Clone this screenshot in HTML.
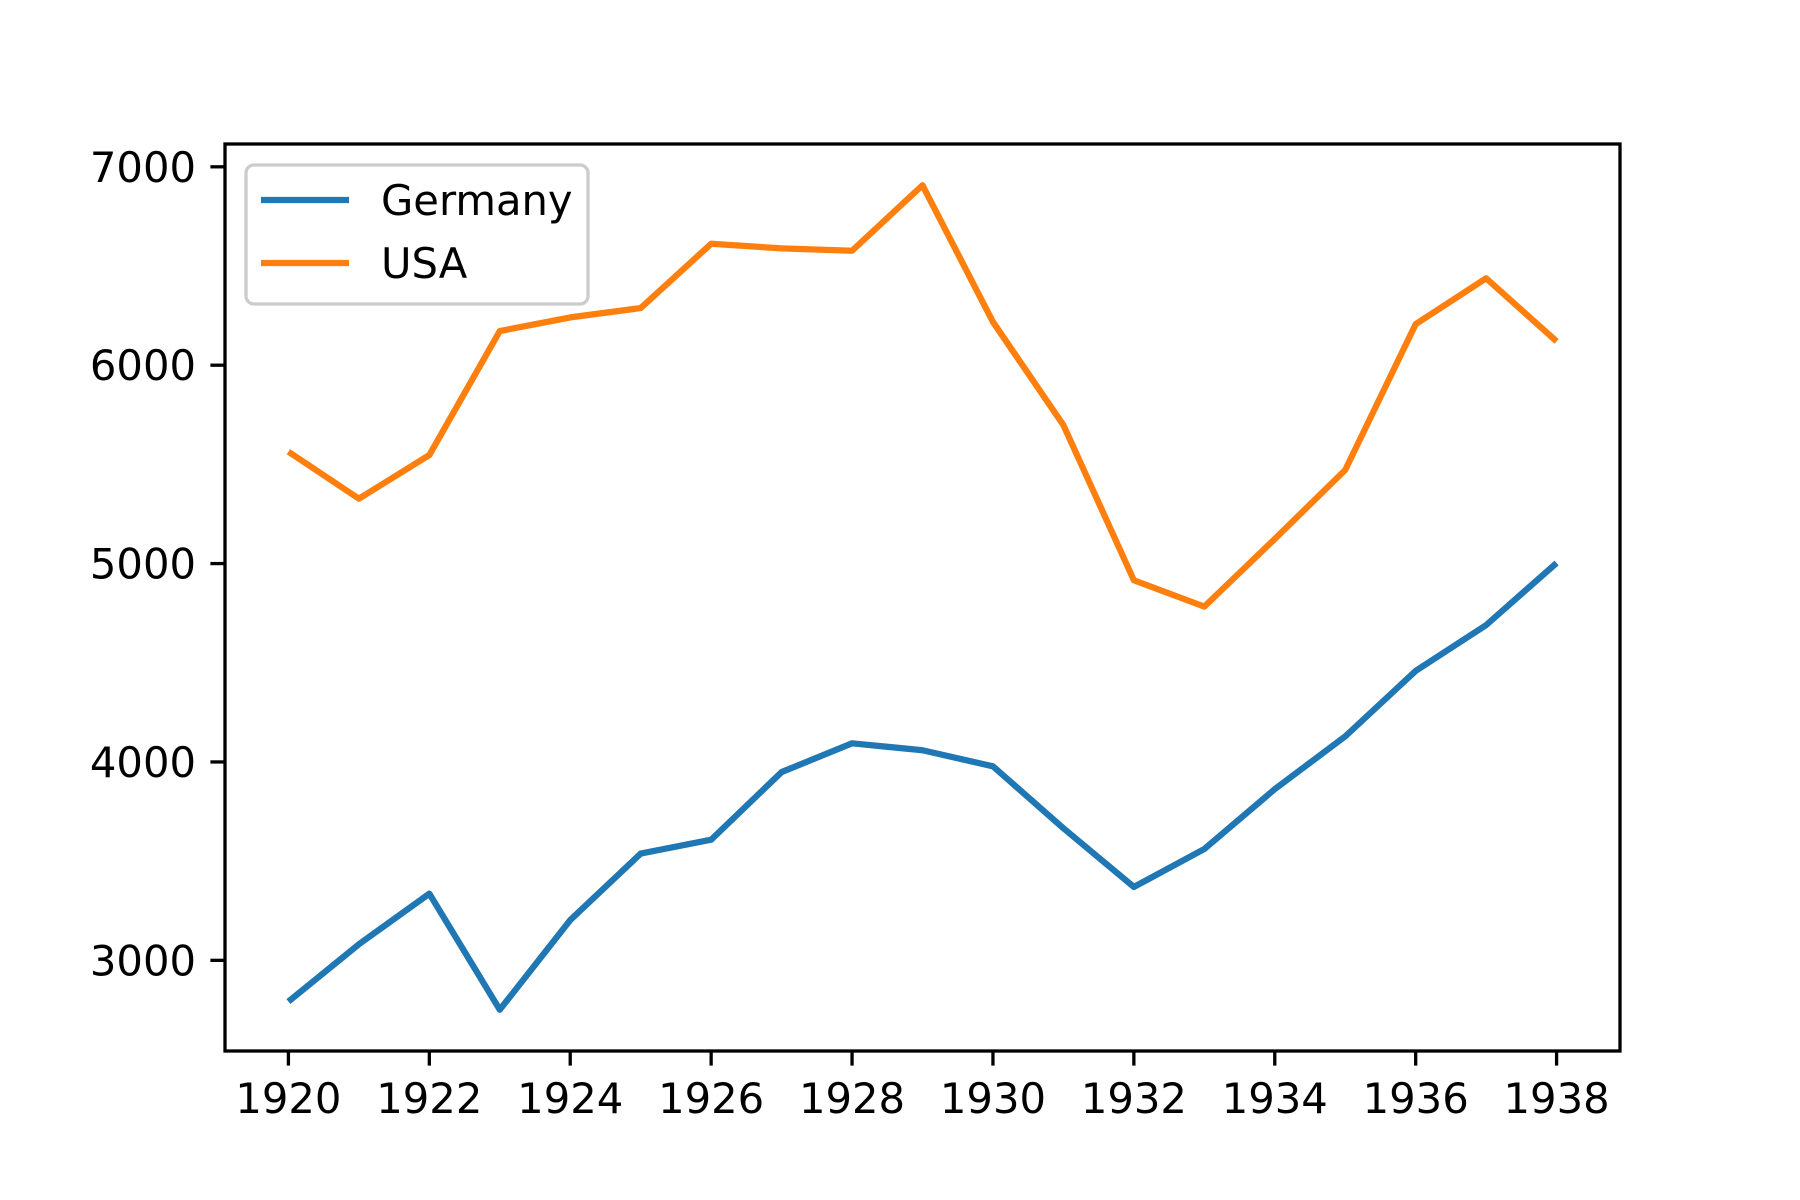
<!DOCTYPE html>
<html><head><meta charset="utf-8"><style>
html,body{margin:0;padding:0;background:#fff}
svg{display:block}
text{font-family:"DejaVu Sans","Liberation Sans",sans-serif;font-size:41.7px;fill:#000}
</style></head><body>
<svg id="chart" width="1800" height="1200" viewBox="0 0 1800 1200">
<rect x="0" y="0" width="1800" height="1200" fill="#fff"/>
<g id="plot"></g>
</svg>
<script>
const years = [1920,1921,1922,1923,1924,1925,1926,1927,1928,1929,1930,1931,1932,1933,1934,1935,1936,1937,1938];
const germany = [2792,3081,3336,2751,3203,3538,3608,3949,4094,4059,3978,3666,3370,3561,3863,4129,4459,4690,5003];
const usa = [5564,5327,5547,6172,6241,6288,6612,6589,6577,6907,6218,5698,4916,4783,5124,5472,6207,6438,6120];
const xTicks = [1920,1922,1924,1926,1928,1930,1932,1934,1936,1938];
const yTicks = [3000,4000,5000,6000,7000];
const seriesNames = ["Germany","USA"];
const seriesColors = ["#1f77b4","#ff7f0e"];

const L=225,R=1620,T=144,B=1051;
const xmin=1919.1,xmax=1938.9,ymin=2543,ymax=7115;
const sx=v=>L+(v-xmin)/(xmax-xmin)*(R-L);
const sy=v=>B-(v-ymin)/(ymax-ymin)*(B-T);
const NS="http://www.w3.org/2000/svg";
const g=document.getElementById('plot');
function mk(tag,attrs){const e=document.createElementNS(NS,tag);for(const k in attrs)e.setAttribute(k,attrs[k]);g.appendChild(e);return e;}

[germany,usa].forEach((s,i)=>{
  const p=mk('polyline',{points:s.map((v,j)=>sx(years[j])+','+sy(v)).join(' '),fill:'none',stroke:seriesColors[i],'stroke-width':6.25,'stroke-linejoin':'round','stroke-linecap':'butt'});
  
  
});

xTicks.forEach(t=>{
  const l=mk('line',{x1:sx(t),x2:sx(t),y1:B,y2:B+14.6,stroke:'#000','stroke-width':3.3});
  
  
  const tx=mk('text',{x:sx(t),y:B+62,'text-anchor':'middle'});tx.textContent=t;
  
  
});
yTicks.forEach(t=>{
  const l=mk('line',{x1:L-14.6,x2:L,y1:sy(t),y2:sy(t),stroke:'#000','stroke-width':3.3});
  
  
  const tx=mk('text',{x:L-29,y:sy(t)+15,'text-anchor':'end'});tx.textContent=t;
  
  
});

const frame=mk('rect',{x:L,y:T,width:R-L,height:B-T,fill:'none',stroke:'#000','stroke-width':3.3});



const lg=mk('rect',{x:246,y:165,width:342,height:139,rx:8,fill:'#fff','fill-opacity':0.8,stroke:'#ccc','stroke-width':3.3});


seriesNames.forEach((n,i)=>{
  const y=200+i*63;
  const l=mk('line',{x1:261,x2:349,y1:y,y2:y,stroke:seriesColors[i],'stroke-width':6.25});
  
  
  const tx=mk('text',{x:381,y:y+15});tx.textContent=n;
  
  
});
</script>
</body></html>
